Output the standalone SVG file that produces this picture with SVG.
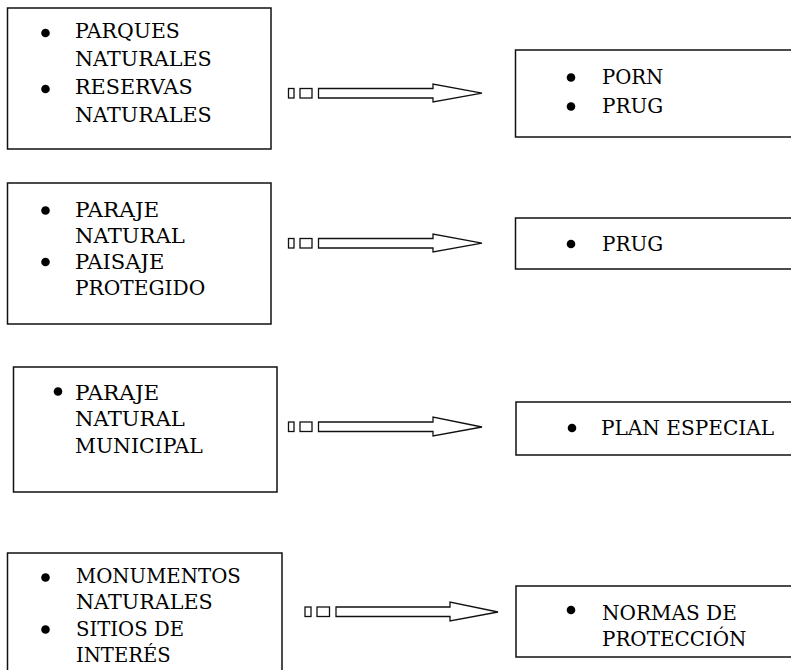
<svg xmlns="http://www.w3.org/2000/svg" width="791" height="670" viewBox="0 0 791 670">
<style>
.box{fill:#fff;stroke:#111;stroke-width:1.5}
.t{font-family:"DejaVu Serif",serif;font-size:21px;fill:#000}
.b{fill:#000}
.ar{fill:#fff;stroke:#111;stroke-width:1.3;stroke-linejoin:miter}
</style>
<rect width="791" height="670" fill="#fff"/>
<g id="n1">
<rect class="box" x="7.5" y="8" width="263.5" height="141"/>
<circle class="b" cx="45.5" cy="33" r="4.3"/>
<circle class="b" cx="45.5" cy="89" r="4.3"/>
<text class="t" x="75" y="38" textLength="104.8" lengthAdjust="spacingAndGlyphs">PARQUES</text>
<text class="t" x="75" y="66" textLength="136.7" lengthAdjust="spacingAndGlyphs">NATURALES</text>
<text class="t" x="75" y="94" textLength="117.6" lengthAdjust="spacingAndGlyphs">RESERVAS</text>
<text class="t" x="75" y="122" textLength="136.7" lengthAdjust="spacingAndGlyphs">NATURALES</text>
</g>
<g id="n2">
<rect class="box" x="515.5" y="50" width="290" height="87"/>
<circle class="b" cx="571" cy="77.5" r="4.3"/>
<circle class="b" cx="571" cy="106.5" r="4.3"/>
<text class="t" x="602" y="84" textLength="61.3" lengthAdjust="spacingAndGlyphs">PORN</text>
<text class="t" x="602" y="113" textLength="61.3" lengthAdjust="spacingAndGlyphs">PRUG</text>
</g>
<g id="n3">
<rect class="box" x="7.5" y="183" width="263.5" height="141"/>
<circle class="b" cx="45.5" cy="210.5" r="4.3"/>
<circle class="b" cx="45.5" cy="262" r="4.3"/>
<text class="t" x="75" y="217" textLength="84.3" lengthAdjust="spacingAndGlyphs">PARAJE</text>
<text class="t" x="75" y="243" textLength="109.9" lengthAdjust="spacingAndGlyphs">NATURAL</text>
<text class="t" x="75" y="269" textLength="89.4" lengthAdjust="spacingAndGlyphs">PAISAJE</text>
<text class="t" x="75" y="295" textLength="130.3" lengthAdjust="spacingAndGlyphs">PROTEGIDO</text>
</g>
<g id="n4">
<rect class="box" x="515.5" y="218" width="290" height="51"/>
<circle class="b" cx="571" cy="244" r="4.3"/>
<text class="t" x="602" y="251" textLength="61.3" lengthAdjust="spacingAndGlyphs">PRUG</text>
</g>
<g id="n5">
<rect class="box" x="13.5" y="367" width="263.5" height="125"/>
<circle class="b" cx="58" cy="391.5" r="4.3"/>
<text class="t" x="75" y="400" textLength="84.3" lengthAdjust="spacingAndGlyphs">PARAJE</text>
<text class="t" x="75" y="426" textLength="109.9" lengthAdjust="spacingAndGlyphs">NATURAL</text>
<text class="t" x="75" y="453" textLength="127.8" lengthAdjust="spacingAndGlyphs">MUNICIPAL</text>
</g>
<g id="n6">
<rect class="box" x="516" y="402" width="290" height="53"/>
<circle class="b" cx="572" cy="428" r="4.3"/>
<text class="t" x="601" y="435" textLength="173.1" lengthAdjust="spacingAndGlyphs">PLAN ESPECIAL</text>
</g>
<g id="n7">
<rect class="box" x="7.5" y="553" width="274.5" height="130"/>
<circle class="b" cx="45.5" cy="577.5" r="4.3"/>
<circle class="b" cx="45.5" cy="629.5" r="4.3"/>
<text class="t" x="76" y="583" textLength="164.8" lengthAdjust="spacingAndGlyphs">MONUMENTOS</text>
<text class="t" x="76" y="609" textLength="136.7" lengthAdjust="spacingAndGlyphs">NATURALES</text>
<text class="t" x="76" y="636" textLength="108" lengthAdjust="spacingAndGlyphs">SITIOS DE</text>
<text class="t" x="76" y="662" textLength="94.6" lengthAdjust="spacingAndGlyphs">INTERÉS</text>
</g>
<g id="n8">
<rect class="box" x="516" y="586" width="290" height="71"/>
<circle class="b" cx="571" cy="610" r="4.3"/>
<text class="t" x="602" y="620" textLength="134.8" lengthAdjust="spacingAndGlyphs">NORMAS DE</text>
<text class="t" x="602" y="646" textLength="144.4" lengthAdjust="spacingAndGlyphs">PROTECCIÓN</text>
</g>
<g id="connectors">
<g id="c1">
<rect class="ar" x="288.5" y="88.5" width="5.5" height="9.5"/>
<rect class="ar" x="300" y="88.5" width="12" height="9.5"/>
<path class="ar" d="M318.5,88.5 H433 V84 L482,93.2 L433,102 V98 H318.5 Z"/>
</g>
<g id="c2">
<rect class="ar" x="288.5" y="238.5" width="5.5" height="9.5"/>
<rect class="ar" x="300" y="238.5" width="12" height="9.5"/>
<path class="ar" d="M318.5,238.5 H433 V234 L482,243.2 L433,252 V248 H318.5 Z"/>
</g>
<g id="c3">
<rect class="ar" x="288.5" y="422" width="5.5" height="9.5"/>
<rect class="ar" x="300" y="422" width="12" height="9.5"/>
<path class="ar" d="M318.5,422 H433 V417 L482,427 L433,436 V431.5 H318.5 Z"/>
</g>
<g id="c4">
<rect class="ar" x="305" y="607" width="6" height="9.5"/>
<rect class="ar" x="317" y="607" width="12.5" height="9.5"/>
<path class="ar" d="M336,607 H450 V602 L498,612 L450,621 V616.5 H336 Z"/>
</g>
</g>
</svg>
